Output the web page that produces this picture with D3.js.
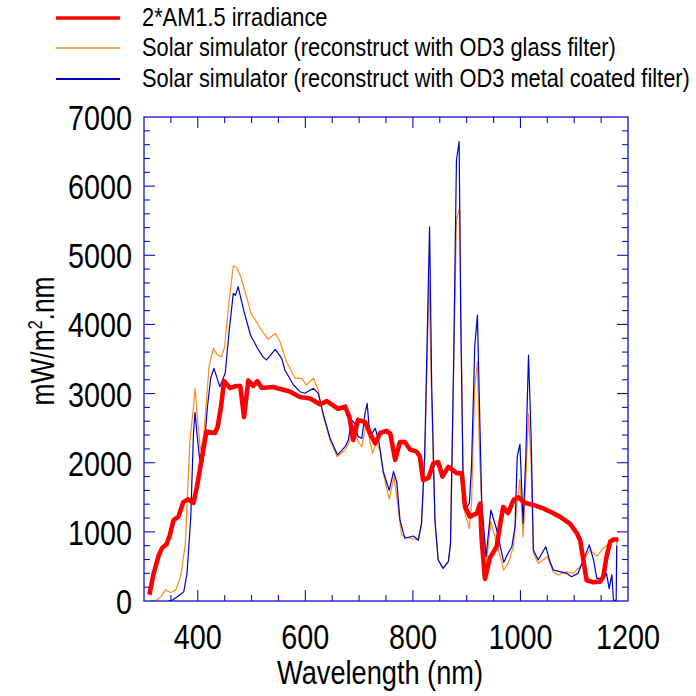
<!DOCTYPE html>
<html>
<head>
<meta charset="utf-8">
<script src="https://cdn.jsdelivr.net/npm/d3@7"></script>
<style>
  html, body { margin: 0; padding: 0; background: #fff; }
  svg { display: block; }
  text { font-family: "Liberation Sans", Arial, sans-serif; fill: #000; }
</style>
</head>
<body>
<svg id="chart" width="696" height="696"></svg>
<script>
// Spectral irradiance: reference AM1.5 (doubled) vs. reconstructed simulator spectra
const seriesNames = [
  "2*AM1.5 irradiance",
  "Solar simulator (reconstruct with OD3 glass filter)",
  "Solar simulator (reconstruct with OD3 metal coated filter)"
];

// [wavelength nm, mW/m².nm]
const am15 = [
  [310, 90], [318, 400], [327, 650], [334, 770], [342, 820], [348, 950], [355, 1170],
  [364, 1220], [373, 1430], [382, 1470], [392, 1420], [398, 1630], [407, 2040],
  [416, 2450], [432, 2430], [437, 2520], [443, 2800], [449, 3180], [460, 3080],
  [472, 3110], [479, 3110], [486, 2660], [494, 3190], [503, 3110], [511, 3180],
  [519, 3080], [540, 3095], [571, 3030], [590, 2950], [609, 2930], [627, 2845],
  [640, 2890], [661, 2780], [674, 2810], [682, 2660], [689, 2330], [698, 2620],
  [711, 2590], [720, 2430], [730, 2280], [739, 2430], [751, 2460], [758, 2420],
  [767, 2040], [776, 2300], [785, 2300], [795, 2190], [807, 2160], [813, 2090],
  [819, 1750], [829, 1780], [838, 1990], [847, 2010], [855, 1800], [866, 1940],
  [875, 1890], [881, 1850], [891, 1850], [897, 1360], [906, 1220], [919, 1270],
  [925, 1410], [928, 880], [934, 320], [943, 620], [956, 790], [962, 1100],
  [968, 1360], [977, 1270], [987, 1460], [996, 1500], [1008, 1420], [1024, 1390],
  [1042, 1340], [1061, 1270], [1073, 1220], [1092, 1120], [1105, 980], [1111, 880],
  [1117, 590], [1123, 300], [1136, 270], [1148, 280], [1154, 350], [1160, 640],
  [1167, 860], [1173, 890], [1182, 890]
];

const glassFilter = [
  [310, 0], [322, 5], [331, 60], [340, 160], [350, 120], [359, 160], [368, 350],
  [377, 830], [385, 2280], [392, 2810], [395, 3076], [399, 2670], [405, 2180],
  [411, 2380], [421, 3390], [429, 3655], [436, 3560], [444, 3530], [450, 3680],
  [457, 4256], [466, 4845], [472, 4826], [480, 4690], [489, 4450], [499, 4160],
  [511, 4016], [516, 3944], [531, 3785], [544, 3872], [553, 3750], [565, 3460],
  [581, 3221], [593, 3221], [602, 3124], [615, 3221], [624, 3052], [633, 2690],
  [646, 2328], [659, 2087], [674, 2184], [682, 2304], [689, 2540], [698, 2304],
  [705, 2232], [713, 2560], [725, 2136], [732, 2281], [739, 2184], [745, 1847],
  [756, 1470], [765, 1798], [779, 955], [788, 921], [810, 882], [816, 1100],
  [822, 2000], [830, 4650], [835, 2900], [841, 1150], [847, 600], [856, 480],
  [866, 570], [870, 850], [876, 3400], [881, 5500], [887, 5700], [890, 3800],
  [894, 1400], [897, 1268], [905, 1051], [909, 1413], [915, 3100], [920, 3461],
  [924, 2100], [928, 1413], [937, 568], [945, 1147], [956, 830], [969, 448],
  [977, 545], [987, 785], [993, 1364], [999, 1760], [1005, 930], [1010, 1750],
  [1015, 2704], [1020, 1950], [1024, 690], [1033, 545], [1042, 593], [1050, 640],
  [1061, 424], [1070, 376], [1086, 424], [1098, 400], [1111, 496], [1129, 738],
  [1142, 650], [1154, 762], [1167, 843], [1176, 907], [1179, 880], [1179, 380]
];

const metalFilter = [
  [345, 0], [352, 10], [362, 62], [374, 135], [380, 400], [387, 1220], [392, 2425],
  [395, 2729], [399, 2377], [405, 1943], [410, 2039], [418, 2810], [424, 3221],
  [430, 3365], [441, 3100], [451, 3293], [458, 3872], [466, 4450], [470, 4420],
  [475, 4546], [486, 4184], [498, 3847], [511, 3655], [522, 3524], [528, 3486],
  [544, 3640], [556, 3510], [562, 3341], [578, 3124], [590, 3027], [599, 3004],
  [615, 3076], [624, 3004], [633, 2714], [646, 2353], [660, 2112], [674, 2232],
  [680, 2328], [686, 2618], [692, 2570], [698, 2377], [705, 2353], [711, 2714],
  [715, 2859], [720, 2377], [730, 2497], [736, 2340], [745, 1870], [756, 1600],
  [764, 1870], [770, 1726], [776, 1171], [785, 907], [801, 940], [810, 882],
  [816, 1124], [822, 2136], [831, 5413], [835, 3100], [841, 1171], [847, 593],
  [856, 472], [866, 568], [870, 834], [876, 3582], [881, 6378], [886, 6643],
  [889, 4064], [894, 1413], [899, 1341], [905, 1413], [909, 1943], [915, 3678],
  [920, 4136], [923, 3100], [928, 1413], [936, 641], [945, 1316], [956, 1027],
  [969, 560], [977, 690], [984, 785], [990, 1075], [994, 2087], [999, 2270],
  [1005, 1124], [1010, 2087], [1015, 3558], [1020, 2328], [1024, 738], [1033, 593],
  [1040, 690], [1047, 785], [1055, 568], [1061, 448], [1073, 424], [1086, 400],
  [1095, 352], [1107, 400], [1117, 593], [1128, 810], [1136, 593], [1142, 328],
  [1154, 328], [1160, 400], [1165, 180], [1170, 380], [1173, 10], [1178, 10],
  [1179, 800]
];

const xTickValues = [400, 600, 800, 1000, 1200];
const yTickValues = [0, 1000, 2000, 3000, 4000, 5000, 6000, 7000];

const svg = d3.select("#chart");
const margin = { left: 144, top: 117, right: 68, bottom: 95 };
const W = 696, H = 696;
const x = d3.scaleLinear().domain([300, 1200]).range([margin.left, W - margin.right]);
const y = d3.scaleLinear().domain([0, 7000]).range([H - margin.bottom, margin.top]);

const axisColor = "#1010cc";
const colors = ["#ff0000", "#ff8a1c", "#0000cc"];
const narrow = 0.8; // horizontal condensing of all text

// Condensed text: anchored at (px, py), squeezed horizontally
function condensed(parent, px, py, str, size, anchor, sx = narrow) {
  return parent.append("text")
    .attr("transform", `translate(${px},${py}) scale(${sx},1)`)
    .attr("text-anchor", anchor)
    .attr("font-size", size)
    .text(str);
}

// Lines, clipped to the plot frame
svg.append("clipPath").attr("id", "plotClip")
  .append("rect")
  .attr("x", x(300)).attr("y", y(7000) - 2)
  .attr("width", x(1200) - x(300)).attr("height", y(0) - y(7000) + 2);

const line = d3.line().x(d => x(d[0])).y(d => y(d[1]));
const g = svg.append("g").attr("clip-path", "url(#plotClip)");

g.append("path").datum(glassFilter)
  .attr("d", line).attr("fill", "none")
  .attr("stroke", colors[1]).attr("stroke-width", 1.2).attr("stroke-linejoin", "round");
g.append("path").datum(metalFilter)
  .attr("d", line).attr("fill", "none")
  .attr("stroke", colors[2]).attr("stroke-width", 1.2).attr("stroke-linejoin", "round");
g.append("path").datum(am15)
  .attr("d", line).attr("fill", "none")
  .attr("stroke", colors[0]).attr("stroke-width", 4.6)
  .attr("stroke-linejoin", "round").attr("stroke-linecap", "butt");

// Frame with inward ticks on all four sides
const xMinor = d3.range(350, 1200, 50);
const yMinor = d3.range(200, 7000, 200);
const frame = svg.append("g").attr("stroke", axisColor).attr("fill", "none");
frame.append("rect")
  .attr("x", x(300)).attr("y", y(7000))
  .attr("width", x(1200) - x(300)).attr("height", y(0) - y(7000))
  .attr("stroke-width", 1.3);

const isMajorX = v => v % 200 === 0;
const isMajorY = v => v % 1000 === 0;
const tickLen = major => major ? 11 : 6;

xMinor.forEach(v => {
  const L = tickLen(isMajorX(v));
  frame.append("line").attr("x1", x(v)).attr("x2", x(v))
    .attr("y1", y(0)).attr("y2", y(0) - L).attr("stroke-width", 1.1);
  frame.append("line").attr("x1", x(v)).attr("x2", x(v))
    .attr("y1", y(7000)).attr("y2", y(7000) + L).attr("stroke-width", 1.1);
});
yMinor.forEach(v => {
  const L = tickLen(isMajorY(v));
  frame.append("line").attr("x1", x(300)).attr("x2", x(300) + L)
    .attr("y1", y(v)).attr("y2", y(v)).attr("stroke-width", 1.1);
  frame.append("line").attr("x1", x(1200)).attr("x2", x(1200) - L)
    .attr("y1", y(v)).attr("y2", y(v)).attr("stroke-width", 1.1);
});

// Tick labels
const labelSize = 36;
const xLabels = svg.append("g");
xTickValues.forEach(v => condensed(xLabels, x(v), y(0) + 48, String(v), labelSize, "middle"));
const yLabels = svg.append("g");
yTickValues.forEach(v => condensed(yLabels, x(300) - 12, y(v) + 13, String(v), labelSize, "end"));

// Axis titles
condensed(svg, (x(300) + x(1200)) / 2 - 6, 684, "Wavelength (nm)", 34, "middle");

const yTitle = svg.append("text")
  .attr("transform", `translate(54, ${(y(0) + y(7000)) / 2 - 18}) rotate(-90) scale(${narrow},1)`)
  .attr("text-anchor", "middle").attr("font-size", 33);
yTitle.append("tspan").text("mW/m");
yTitle.append("tspan").attr("dy", -12).attr("font-size", 20).text("2");
yTitle.append("tspan").attr("dy", 12).text(".nm");

// Legend: text squeezed so the longest entry ends near the right edge
const legendRows = [18, 48, 79];
const legendWidths = [3.6, 1.6, 2];
const legendX = 142, legendRight = 690, legendSize = 25;
const legend = svg.append("g");
const probe = legend.append("text").attr("font-size", legendSize).text(seriesNames[2]);
const legendScale = (legendRight - legendX) / probe.node().getComputedTextLength();
probe.remove();
seriesNames.forEach((name, i) => {
  legend.append("line")
    .attr("x1", 56).attr("x2", 120)
    .attr("y1", legendRows[i]).attr("y2", legendRows[i])
    .attr("stroke", colors[i]).attr("stroke-width", legendWidths[i]);
  condensed(legend, legendX, legendRows[i] + 8, name, legendSize, "start", legendScale);
});
</script>
</body>
</html>
